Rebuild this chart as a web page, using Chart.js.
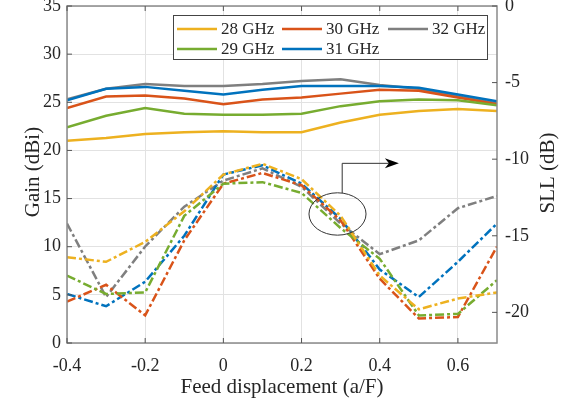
<!DOCTYPE html>
<html><head><meta charset="utf-8">
<script src="https://cdn.jsdelivr.net/npm/chart.js@4.4.0/dist/chart.umd.min.js"></script>
<style>html,body{margin:0;padding:0;background:#fff;}canvas{display:block;}</style>
</head><body>
<canvas id="c" width="579" height="402"></canvas>
<script>
// ---- data ----
const feedDisplacement = [-0.4,-0.3,-0.2,-0.1,0,0.1,0.2,0.3,0.4,0.5,0.6,0.7];
const seriesNames = ['28 GHz','29 GHz','30 GHz','31 GHz','32 GHz'];
const gain28 = [21.0,21.3,21.7,21.9,22.0,21.9,21.9,22.9,23.7,24.1,24.3,24.1];
const gain29 = [22.4,23.6,24.4,23.8,23.7,23.7,23.8,24.6,25.1,25.3,25.2,24.7];
const gain30 = [24.4,25.6,25.7,25.4,24.8,25.3,25.5,25.9,26.3,26.2,25.5,24.8];
const gain31 = [25.2,26.4,26.6,26.2,25.8,26.3,26.7,26.7,26.7,26.5,25.8,25.1];
const gain32 = [25.3,26.4,26.9,26.7,26.7,26.9,27.2,27.4,26.8,26.4,25.6,24.9];
const sll28 = [-16.4,-16.7,-15.4,-13.4,-11.0,-10.3,-11.3,-13.7,-17.6,-19.8,-19.1,-18.7];
const sll29 = [-17.6,-18.8,-18.7,-13.7,-11.6,-11.5,-12.2,-14.5,-16.5,-20.2,-20.1,-17.9];
const sll30 = [-19.3,-18.2,-20.2,-15.3,-11.6,-10.9,-11.7,-14.0,-17.8,-20.4,-20.3,-15.7];
const sll31 = [-18.8,-19.6,-18.0,-15.0,-11.0,-10.4,-11.6,-13.9,-17.2,-19.0,-16.7,-14.2];
const sll32 = [-14.2,-19.0,-15.7,-13.1,-11.4,-10.6,-11.8,-14.2,-16.2,-15.3,-13.2,-12.4];
const xTickValues = [-0.4,-0.2,0,0.2,0.4,0.6];
const xTickLabels = ['-0.4','-0.2','0','0.2','0.4','0.6'];
const gainTickValues = [0,5,10,15,20,25,30,35];
const gainTickLabels = ['0','5','10','15','20','25','30','35'];
const sllTickValues = [-20,-15,-10,-5,0];
const sllTickLabels = ['-20','-15','-10','-5','0'];
const xTitle = 'Feed displacement (a/F)';
const gainTitle = 'Gain (dBi)';
const sllTitle = 'SLL (dB)';

// ---- styles ----
const FONT = '"Liberation Serif", "Times New Roman", serif';
const TXT = '#262626';
const seriesColors = ['#EDB120','#77AC30','#D95319','#0072BD','#7F7F7F'];
const gainSeries = [gain28,gain29,gain30,gain31,gain32];
const sllSeries = [sll28,sll29,sll30,sll31,sll32];
// annotation (data coordinates on x / gain axes)
const ellipseCenter = {x:0.292, y:13.4}, ellipseR = {x:0.073, y:2.2};
const arrowCorner = {x:0.304, y:18.66}, arrowEnd = {x:0.449};

function pts(vals){ return feedDisplacement.map((x,i)=>({x:x, y:vals[i]})); }
const datasets = [];
gainSeries.forEach((g,i)=>datasets.push({label:seriesNames[i], data:pts(g), yAxisID:'y',
  borderColor:seriesColors[i], borderWidth:2.5, pointRadius:0, tension:0, fill:false}));
sllSeries.forEach((s,i)=>datasets.push({label:seriesNames[i]+' SLL', data:pts(s), yAxisID:'y2',
  borderColor:seriesColors[i], borderWidth:2.5, borderDash:[9,3,3,3], pointRadius:0, tension:0, fill:false}));

function fixTicks(values){ return s => { s.ticks = values.map(v=>({value:v})); }; }
const tickFont = {family:FONT, size:18};

const overlay = {
  id:'overlay',
  afterDatasetsDraw(chart){
    const c = chart.ctx, a = chart.chartArea, sx = chart.scales.x, sy = chart.scales.y, s2 = chart.scales.y2;
    c.save();
    // annotation ellipse + arrow
    const cx = sx.getPixelForValue(ellipseCenter.x), cy = sy.getPixelForValue(ellipseCenter.y);
    const rx = sx.getPixelForValue(ellipseCenter.x+ellipseR.x)-cx, ry = cy - sy.getPixelForValue(ellipseCenter.y+ellipseR.y);
    c.strokeStyle = '#333'; c.lineWidth = 1;
    c.beginPath(); c.ellipse(cx, cy, rx, ry, 0, 0, Math.PI*2); c.stroke();
    const px = sx.getPixelForValue(arrowCorner.x), py = sy.getPixelForValue(arrowCorner.y);
    const ex = sx.getPixelForValue(arrowEnd.x);
    const t = Math.sqrt(Math.max(0, 1 - ((px-cx)/rx)**2));
    c.beginPath(); c.moveTo(px, cy - ry*t); c.lineTo(px, py); c.lineTo(ex-10, py); c.stroke();
    c.fillStyle = '#000';
    c.beginPath(); c.moveTo(ex, py); c.lineTo(ex-14, py-5); c.lineTo(ex-10, py); c.lineTo(ex-14, py+5); c.closePath(); c.fill();
    // frame
    c.strokeStyle = '#8a8a8a'; c.lineWidth = 1.5;
    c.strokeRect(a.left, a.top, a.right-a.left, a.bottom-a.top);
    // inward ticks
    c.strokeStyle = '#555'; c.lineWidth = 1;
    c.beginPath();
    gainTickValues.forEach(v=>{ const y = sy.getPixelForValue(v); c.moveTo(a.left, y); c.lineTo(a.left+5, y); });
    sllTickValues.forEach(v=>{ const y = s2.getPixelForValue(v); c.moveTo(a.right, y); c.lineTo(a.right-5, y); });
    xTickValues.forEach(v=>{ const x = sx.getPixelForValue(v); c.moveTo(x, a.bottom); c.lineTo(x, a.bottom-5); c.moveTo(x, a.top); c.lineTo(x, a.top+5); });
    c.stroke();
    // legend
    const lx = 173, ly = 15, lw = 314, lh = 44;
    c.fillStyle = '#fff'; c.fillRect(lx, ly, lw, lh);
    c.strokeStyle = '#444'; c.lineWidth = 1; c.strokeRect(lx+0.5, ly+0.5, lw, lh);
    const colX = [177, 282, 388], rowY = [29, 49];
    c.font = '17px ' + FONT; c.textBaseline = 'middle'; c.textAlign = 'left';
    seriesNames.forEach((n,i)=>{
      const col = Math.floor(i/2), row = i%2;
      const x0 = colX[col], y0 = rowY[row];
      c.strokeStyle = seriesColors[i]; c.lineWidth = 2.5;
      c.beginPath(); c.moveTo(x0, y0); c.lineTo(x0+40, y0); c.stroke();
      c.fillStyle = TXT; c.fillText(n, x0+44, y0+1);
    });
    // titles
    c.fillStyle = TXT; c.font = '21px ' + FONT; c.textAlign = 'center';
    c.textBaseline = 'alphabetic';
    c.fillText(xTitle, (a.left+a.right)/2, 393);
    c.textBaseline = 'middle';
    c.save(); c.translate(33, 172); c.rotate(-Math.PI/2); c.fillText(gainTitle, 0, 0); c.restore();
    c.save(); c.translate(548, 173); c.rotate(-Math.PI/2); c.fillText(sllTitle, 0, 0); c.restore();
    c.restore();
  }
};

new Chart(document.getElementById('c'), {
  type:'line',
  data:{datasets:datasets},
  options:{
    responsive:false, animation:false, events:[],
    layout:{padding:{top:6,left:0,right:0,bottom:0}},
    plugins:{legend:{display:false}, tooltip:{enabled:false}},
    scales:{
      x:{type:'linear', min:-0.4, max:0.7, afterBuildTicks:fixTicks(xTickValues),
         afterFit:s=>{s.height=59; s.paddingLeft=0; s.paddingRight=0;},
         grid:{color:'#e2e2e2', drawTicks:false}, border:{display:false},
         ticks:{font:tickFont, color:TXT, padding:12, maxRotation:0, autoSkip:false, callback:(v,i)=>xTickLabels[i]}},
      y:{type:'linear', position:'left', min:0, max:35, afterBuildTicks:fixTicks(gainTickValues),
         afterFit:s=>{s.width=67; s.paddingTop=0; s.paddingBottom=0;},
         grid:{color:'#e2e2e2', drawTicks:false}, border:{display:false},
         ticks:{font:tickFont, color:TXT, padding:6, autoSkip:false, callback:(v,i)=>gainTickLabels[i]}},
      y2:{type:'linear', position:'right', min:-22, max:0, afterBuildTicks:fixTicks(sllTickValues),
         afterFit:s=>{s.width=82; s.paddingTop=0; s.paddingBottom=0;},
         grid:{display:false, drawTicks:false}, border:{display:false},
         ticks:{font:tickFont, color:TXT, padding:8, autoSkip:false, callback:(v,i)=>sllTickLabels[i]}}
    }
  },
  plugins:[overlay]
});
</script>
</body></html>
